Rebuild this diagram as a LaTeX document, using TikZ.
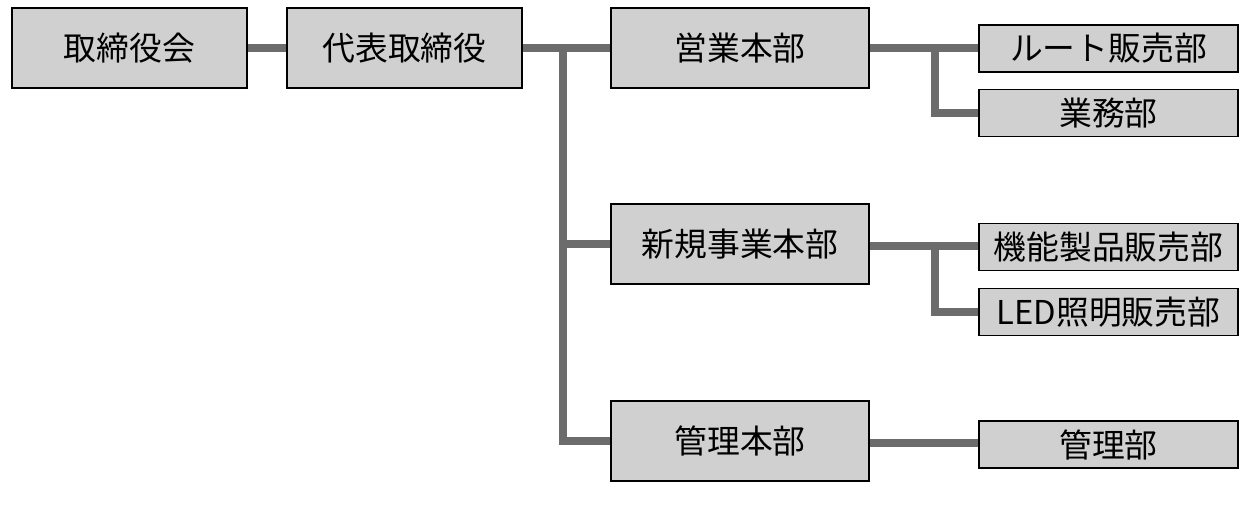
\documentclass[tikz,border=0pt]{standalone}
\usepackage{fontspec}
\setmainfont{Noto Sans CJK JP}
\begin{document}
\begin{tikzpicture}[x=0.75pt,y=-0.75pt,
  box/.style={draw=black,line width=1.1pt,fill=boxgray,inner sep=0pt,outer sep=0pt,
    font=\fontsize{24.6}{28}\selectfont,text=black},
  topbox/.style={box,minimum width=176.25pt,minimum height=60pt},
  mainbox/.style={box,minimum width=193.5pt,minimum height=60pt},
  subbox/.style={box,minimum width=194.25pt,minimum height=35.25pt},
  conn/.style={draw=linegray,line width=6pt}]
\definecolor{boxgray}{RGB}{208,208,208}
\definecolor{linegray}{RGB}{108,108,108}
\useasboundingbox (0,0) rectangle (1255,511);
% nodes
\node[topbox] (b1) at (129.5,48) {取締役会};
\node[topbox] (b2) at (404.5,48) {代表取締役};
\node[mainbox] (m1) at (740,48) {営業本部};
\node[mainbox] (m2) at (740,244) {新規事業本部};
\node[mainbox] (m3) at (740,441) {管理本部};
\node[subbox] (s1) at (1108.5,48.5) {ルート販売部};
\node[subbox] (s2) at (1108.5,113) {業務部};
\node[subbox] (s3) at (1108.5,247) {機能製品販売部};
\node[subbox] (s4) at (1108.5,312) {LED照明販売部};
\node[subbox] (s5) at (1108.5,444.5) {管理部};
\coordinate (tr) at (563,48);
\coordinate (st1) at (935,48);
\coordinate (st2) at (935,246);
% connectors
\draw[conn] (b1.east) -- (b2.west);
\draw[conn] (b2.east) -- (m1.west);
\draw[conn] (tr) |- (m3.west);
\draw[conn] (tr |- m2.west) -- (m2.west);
\draw[conn] (m1.east) -- (m1.east -| s1.west);
\draw[conn] (st1) |- (s2.west);
\draw[conn] (m2.east |- st2) -- (st2 -| s3.west);
\draw[conn] (st2) |- (s4.west);
\draw[conn] (m3.east |- 0,443) -- (s5.west |- 0,443);
% redraw node borders on top
\foreach \n in {b1,b2,m1,m2,m3,s1,s2,s3,s4,s5}
  \draw[line width=1.1pt] (\n.north west) rectangle (\n.south east);
\end{tikzpicture}
\end{document}
